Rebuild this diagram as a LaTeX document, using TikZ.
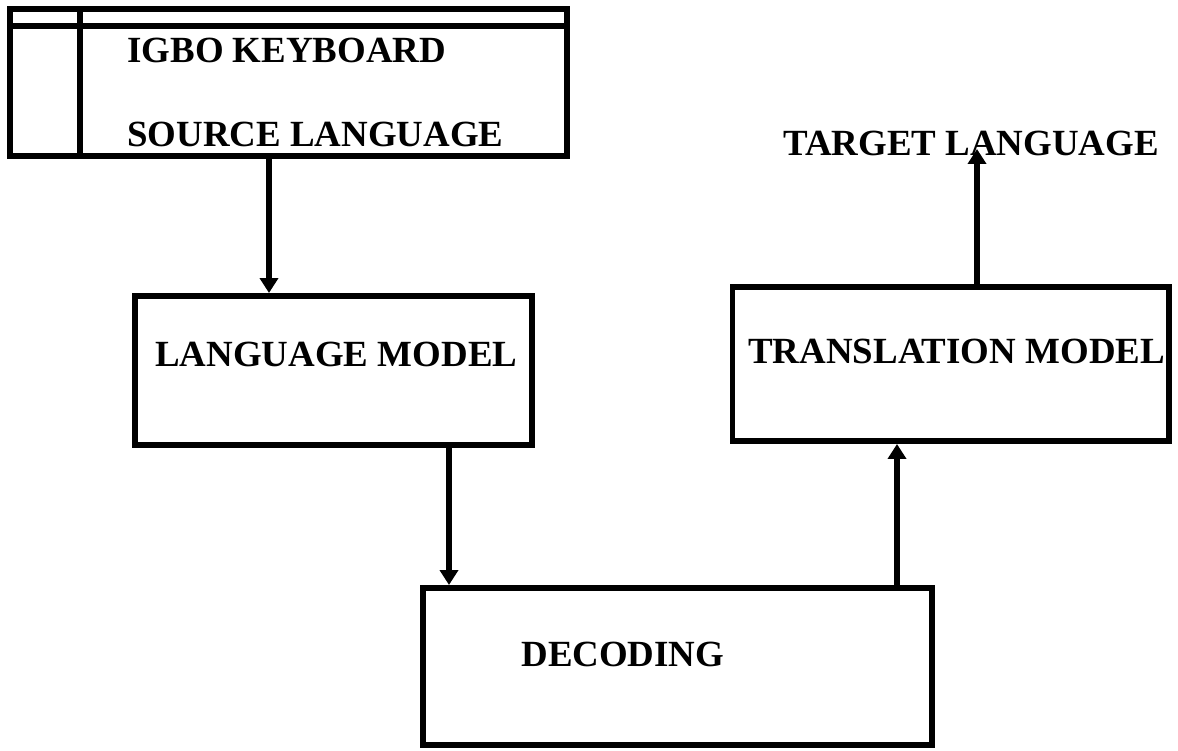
\documentclass[tikz,border=0pt]{standalone}
\usepackage{fontspec}
\setmainfont{Liberation Serif}
\usetikzlibrary{arrows.meta}
\tikzstyle{block} = [rectangle, draw=black, line width=3.4pt, inner sep=0]
\tikzstyle{rule} = [line width=3pt]
\tikzstyle{lbl} = [font=\fontsize{21}{25}\selectfont\bfseries, anchor=base west, inner sep=0]
\tikzstyle{arrow} = [line width=3pt,-{Triangle[length=0.3cm,width=0.36cm]}]

\begin{document}
\begin{tikzpicture}
\useasboundingbox (0,0) rectangle (23.56,-15.02);

% boxes
\node (kb) at (5.77,-1.65) [block, minimum width=11.14cm, minimum height=2.94cm] {};
\node (lm) at (6.67,-7.41) [block, minimum width=7.94cm, minimum height=2.98cm] {};
\node (tm) at (19.01,-7.28) [block, minimum width=8.72cm, minimum height=3.08cm] {};
\node (dec) at (13.55,-13.33) [block, minimum width=10.18cm, minimum height=3.14cm] {};

% keyboard rows
\draw[rule] (0.2,-0.52)--(11.34,-0.52);
\draw[rule] (1.6,-0.18)--(1.6,-3.12);

% texts
\node (igbo) at (2.54,-1.26) [lbl] {IGBO KEYBOARD};
\node (src) at (2.54,-2.94) [lbl] {SOURCE LANGUAGE};
\node (lmtext) at (3.1,-7.34) [lbl] {LANGUAGE MODEL};
\node (tmtext) at (14.96,-7.28) [lbl] {TRANSLATION MODEL};
\node (dectext) at (10.42,-13.32) [lbl] {DECODING};
\node (tgt) at (15.66,-3.12) [lbl] {TARGET LANGUAGE};
\coordinate (tip) at (19.54,-2.98);

% arrows
\draw[arrow] ([xshift=-0.39cm]kb.south)--([xshift=-0.39cm]kb.south |- lm.north);
\draw[arrow] ([xshift=2.31cm]lm.south)--([xshift=2.31cm]lm.south |- dec.north);
\draw[arrow] ([xshift=4.39cm]dec.north)--([xshift=4.39cm]dec.north |- tm.south);
\draw[arrow] ([xshift=0.53cm]tm.north)--(tip);
\end{tikzpicture}
\end{document}
